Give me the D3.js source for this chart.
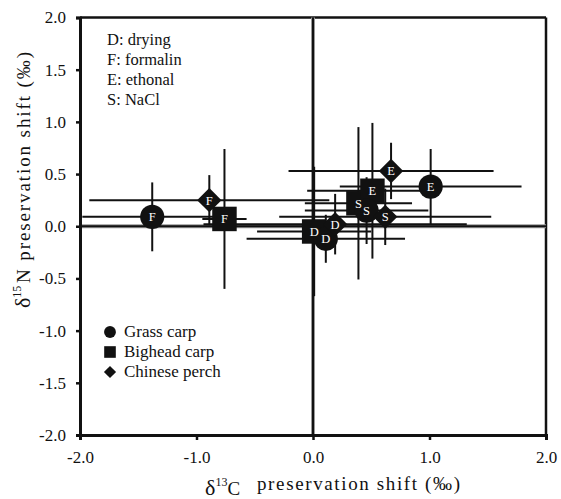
<!DOCTYPE html>
<html>
<head>
<meta charset="utf-8">
<script src="https://cdn.jsdelivr.net/npm/d3@7"></script>
<style>
  body { margin: 0; background: #fff; }
  svg text { font-family: "Liberation Serif", "Times New Roman", serif; fill: #111; }
</style>
</head>
<body>
<div class="chart"></div>
<script>
// treatment labels + values (x = d13C shift, y = d15N shift)
const legendTreatments = ['D: drying', 'F: formalin', 'E: ethonal', 'S: NaCl'];
const speciesNames = ['Grass carp', 'Bighead carp', 'Chinese perch'];

const grassLabel = ['F', 'E', 'D', 'S'];
const grassX = [-1.38, 1.01, 0.11, 0.46];
const grassY = [0.09, 0.38, -0.12, 0.15];
const grassXerr = [0.60, 0.78, 0.68, 0.53];
const grassYerr = [0.33, 0.36, 0.23, 0.32];

const bigheadLabel = ['F', 'S', 'E', 'D'];
const bigheadX = [-0.76, 0.39, 0.51, 0.01];
const bigheadY = [0.07, 0.22, 0.34, -0.05];
const bigheadXerr = [0.19, 0.46, 0.56, 0.49];
const bigheadYerr = [0.67, 0.73, 0.65, 0.62];

const perchLabel = ['F', 'E', 'D', 'S'];
const perchX = [-0.89, 0.67, 0.19, 0.62];
const perchY = [0.25, 0.53, 0.02, 0.09];
const perchXerr = [1.03, 0.88, 1.13, 0.91];
const perchYerr = [0.24, 0.27, 0.29, 0.27];

const yTicks = [-2, -1.5, -1, -0.5, 0, 0.5, 1, 1.5, 2];
const xTicks = [-2, -1, 0, 1, 2];

const width = 561, height = 499;
const margin = { left: 80, top: 17.5, right: 15, bottom: 64 };
const serif = '"Liberation Serif", "Times New Roman", serif';

const svg = d3.select('.chart').append('svg')
    .attr('width', width)
    .attr('height', height);

const x = d3.scaleLinear().domain([-2, 2]).range([margin.left, width - margin.right]);
const y = d3.scaleLinear().domain([-2, 2]).range([height - margin.bottom, margin.top]);

const fmt = d => d.toFixed(1);

// frame top/right
svg.append('line').attr('x1', x(-2)).attr('x2', x(2)).attr('y1', y(2)).attr('y2', y(2))
    .attr('stroke', '#111').attr('stroke-width', 2.5);
svg.append('line').attr('x1', x(2)).attr('x2', x(2)).attr('y1', y(2)).attr('y2', y(-2))
    .attr('stroke', '#111').attr('stroke-width', 2.5);

// zero lines
[['#999', 4], ['#111', 2]].forEach(([c, w]) => {
    svg.append('line').attr('x1', x(-2)).attr('x2', x(2)).attr('y1', y(0)).attr('y2', y(0))
        .attr('stroke', c).attr('stroke-width', w);
    svg.append('line').attr('x1', x(0)).attr('x2', x(0)).attr('y1', y(2)).attr('y2', y(-2))
        .attr('stroke', c).attr('stroke-width', w);
});

// axes
const yAxis = svg.append('g')
    .attr('transform', `translate(${x(-2)},0)`)
    .call(d3.axisLeft(y).tickValues(yTicks).tickFormat(fmt).tickSize(4).tickPadding(10));
const xAxis = svg.append('g')
    .attr('transform', `translate(0,${y(-2)})`)
    .call(d3.axisBottom(x).tickValues(xTicks).tickFormat(fmt).tickSize(5).tickPadding(11));

[yAxis, xAxis].forEach(a => {
    a.attr('font-family', serif);
    a.select('.domain').attr('stroke', '#111').attr('stroke-width', 3);
    a.selectAll('.tick line').attr('stroke', '#111').attr('stroke-width', 2.5);
    a.selectAll('.tick text').attr('font-size', '17px').attr('fill', '#222');
});

// build series from arrays
const series = [
    { shape: 'circle', label: grassLabel, xs: grassX, ys: grassY, xe: grassXerr, ye: grassYerr },
    { shape: 'square', label: bigheadLabel, xs: bigheadX, ys: bigheadY, xe: bigheadXerr, ye: bigheadYerr },
    { shape: 'diamond', label: perchLabel, xs: perchX, ys: perchY, xe: perchXerr, ye: perchYerr }
];

const points = [];
// squares underneath, then circles, then diamonds
[series[1], series[0], series[2]].forEach(s => {
    s.label.forEach((lab, i) => {
        points.push({ shape: s.shape, label: lab, x: s.xs[i], y: s.ys[i], xe: s.xe[i], ye: s.ye[i] });
    });
});

// error bars
const err = svg.append('g').attr('stroke', '#111').attr('stroke-width', 2);
points.forEach(p => {
    err.append('line')
        .attr('x1', x(p.x - p.xe)).attr('x2', x(p.x + p.xe))
        .attr('y1', y(p.y)).attr('y2', y(p.y));
    err.append('line')
        .attr('x1', x(p.x)).attr('x2', x(p.x))
        .attr('y1', y(p.y - p.ye)).attr('y2', y(p.y + p.ye));
});

const symbolFor = (shape, size) => {
    if (shape === 'circle') return d3.symbol(d3.symbolCircle, size)();
    if (shape === 'square') return d3.symbol(d3.symbolSquare, size)();
    return d3.symbol(d3.symbolDiamond2, size)();
};
const markerSize = { circle: 460, square: 600, diamond: 380 };

// all markers first, then all letters on top so none are hidden
svg.append('g').selectAll('path')
    .data(points)
    .join('path')
    .attr('transform', p => `translate(${x(p.x)},${y(p.y)})`)
    .attr('d', p => symbolFor(p.shape, markerSize[p.shape]))
    .attr('fill', '#111');

svg.append('g').selectAll('text')
    .data(points)
    .join('text')
    .attr('x', p => x(p.x))
    .attr('y', p => y(p.y) + 4.5)
    .attr('text-anchor', 'middle')
    .attr('font-family', serif)
    .attr('font-size', '12.5px')
    .style('fill', '#fff')
    .text(p => p.label);

// treatment legend (top-left)
svg.append('g').selectAll('text')
    .data(legendTreatments)
    .join('text')
    .attr('x', 107)
    .attr('y', (d, i) => 45 + i * 20)
    .attr('font-family', serif)
    .attr('font-size', '16.5px')
    .text(d => d);

// species legend
const leg = svg.append('g');
speciesNames.forEach((name, i) => {
    const yy = 332 + i * 20;
    leg.append('path')
        .attr('transform', `translate(110,${yy})`)
        .attr('d', symbolFor(series[i].shape, [110, 135, 95][i]))
        .attr('fill', '#111');
    leg.append('text')
        .attr('x', 124)
        .attr('y', yy + 5)
        .attr('font-family', serif)
        .attr('font-size', '17px')
        .text(name);
});

// x title
const xt = svg.append('text')
    .attr('x', 205)
    .attr('y', 495)
    .attr('font-family', serif)
    .attr('font-size', '19px');
xt.append('tspan').attr('font-size', '22px').text('δ');
xt.append('tspan').attr('font-size', '12px').attr('dy', -9).text('13');
xt.append('tspan').attr('dy', 9).text('C');
xt.append('tspan').attr('x', 257).attr('y', 490)
    .attr('textLength', 203).attr('lengthAdjust', 'spacing')
    .text('preservation shift (‰)');

// y title
const yt = svg.append('g').attr('transform', 'translate(30,308) rotate(-90)')
    .append('text')
    .attr('font-family', serif)
    .attr('font-size', '19px');
yt.append('tspan').attr('font-size', '22px').text('δ');
yt.append('tspan').attr('font-size', '12px').attr('dy', -9).text('15');
yt.append('tspan').attr('dy', 9).attr('x', 25)
    .attr('textLength', 231).attr('lengthAdjust', 'spacing')
    .text('N preservation shift (‰)');
</script>
</body>
</html>
